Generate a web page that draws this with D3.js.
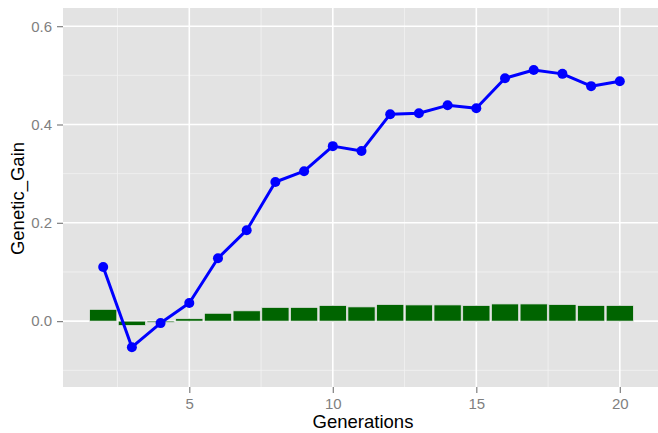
<!DOCTYPE html>
<html>
<head>
<meta charset="utf-8">
<script src="https://cdn.jsdelivr.net/npm/d3@7"></script>
<style>
  html, body { margin: 0; padding: 0; background: #fff; }
</style>
</head>
<body>
<div id="chart"></div>
<script>
// Genetic gain per generation: line (blue) + small bars (dark green).
const generations = [2, 3, 4, 5, 6, 7, 8, 9, 10, 11, 12, 13, 14, 15, 16, 17, 18, 19, 20];
const gainLine = [0.110, -0.053, -0.004, 0.037, 0.128, 0.185, 0.283, 0.305, 0.356, 0.346,
                  0.421, 0.423, 0.439, 0.433, 0.494, 0.511, 0.503, 0.478, 0.488];
const gainBars = [0.024, -0.009, -0.003, 0.005, 0.016, 0.021, 0.028, 0.028, 0.032, 0.029,
                  0.034, 0.033, 0.033, 0.032, 0.035, 0.035, 0.034, 0.032, 0.032];
const xTicks = [5, 10, 15, 20];
const xMinor = [2.5, 7.5, 12.5, 17.5];
const yTicks = [0.0, 0.2, 0.4, 0.6];
const yMinor = [-0.1, 0.1, 0.3, 0.5];

const W = 658, H = 433;
const panel = { left: 63, top: 8, right: 660, bottom: 387 };

const svg = d3.select("#chart").append("svg")
  .attr("width", W).attr("height", H)
  .attr("font-family", "Liberation Sans, Arial, sans-serif");

const x = d3.scaleLinear().domain([0.6, 21.4]).range([panel.left, panel.right]);
const y = d3.scaleLinear().domain([-0.134, 0.637]).range([panel.bottom, panel.top]);

// panel background
svg.append("rect")
  .attr("x", panel.left).attr("y", panel.top)
  .attr("width", panel.right - panel.left).attr("height", panel.bottom - panel.top)
  .attr("fill", "#e3e3e3");

const grid = svg.append("g");
// minor grid
grid.selectAll("line.ymin").data(yMinor).join("line")
  .attr("x1", panel.left).attr("x2", panel.right)
  .attr("y1", d => y(d)).attr("y2", d => y(d))
  .attr("stroke", "#f2f2f2").attr("stroke-width", 0.8);
grid.selectAll("line.xmin").data(xMinor).join("line")
  .attr("y1", panel.top).attr("y2", panel.bottom)
  .attr("x1", d => x(d)).attr("x2", d => x(d))
  .attr("stroke", "#f2f2f2").attr("stroke-width", 0.8);
// major grid
grid.selectAll("line.ymaj").data(yTicks).join("line")
  .attr("x1", panel.left).attr("x2", panel.right)
  .attr("y1", d => y(d)).attr("y2", d => y(d))
  .attr("stroke", "#ffffff").attr("stroke-width", 1.6);
grid.selectAll("line.xmaj").data(xTicks).join("line")
  .attr("y1", panel.top).attr("y2", panel.bottom)
  .attr("x1", d => x(d)).attr("x2", d => x(d))
  .attr("stroke", "#ffffff").attr("stroke-width", 1.6);

// bars
const barW = 0.95;
svg.append("g").selectAll("rect").data(generations).join("rect")
  .attr("x", (d) => x(d - barW / 2))
  .attr("width", (d) => x(barW) - x(0))
  .attr("y", (d, i) => y(Math.max(0, gainBars[i])))
  .attr("height", (d, i) => Math.abs(y(gainBars[i]) - y(0)))
  .attr("fill", "#006400")
  .attr("stroke", "#e3e3e3").attr("stroke-width", 0.8);

// line + points
const pts = generations.map((g, i) => [g, gainLine[i]]);
svg.append("path")
  .datum(pts)
  .attr("d", d3.line().x(d => x(d[0])).y(d => y(d[1])))
  .attr("fill", "none").attr("stroke", "#0000ff").attr("stroke-width", 3)
  .attr("stroke-linejoin", "round");
svg.append("g").selectAll("circle").data(pts).join("circle")
  .attr("cx", d => x(d[0])).attr("cy", d => y(d[1])).attr("r", 5)
  .attr("fill", "#0000ff");

// axes
const xAxis = svg.append("g")
  .attr("transform", `translate(0,${panel.bottom})`)
  .call(d3.axisBottom(x).tickValues(xTicks).tickSize(6).tickPadding(5).tickFormat(d3.format("d")));
const yAxis = svg.append("g")
  .attr("transform", `translate(${panel.left},0)`)
  .call(d3.axisLeft(y).tickValues(yTicks).tickSize(6).tickPadding(5).tickFormat(d3.format(".1f")));
for (const a of [xAxis, yAxis]) {
  a.select(".domain").remove();
  a.selectAll(".tick line").attr("stroke", "#7f7f7f").attr("stroke-width", 1.2);
  a.selectAll(".tick text").attr("fill", "#7f7f7f").attr("font-size", 15);
}

// axis titles
svg.append("text")
  .attr("x", 363).attr("y", 428)
  .attr("text-anchor", "middle").attr("font-size", 18.5).attr("fill", "#000")
  .text("Generations");
svg.append("text")
  .attr("transform", `translate(23.5,198.5) rotate(-90)`)
  .attr("text-anchor", "middle").attr("font-size", 18.5).attr("fill", "#000")
  .text("Genetic_Gain");
</script>
</body>
</html>
